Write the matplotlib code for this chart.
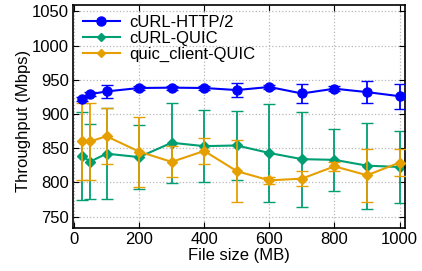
import matplotlib
matplotlib.use("Agg")
import matplotlib.pyplot as plt
from matplotlib.lines import Line2D

plt.rcParams['font.family'] = ['Liberation Sans', 'DejaVu Sans']

# file sizes (MB)
sizes = [25, 50, 100, 200, 300, 400, 500, 600, 700, 800, 900, 1000]

# throughput (Mbps) and error bars
http2 = [922, 929, 933, 938, 938.5, 938, 935, 939.5, 930, 937, 932, 926]
http2_err = [3, 3, 9.5, 3, 3, 3, 10, 3, 14.5, 4, 16, 18]

curl_quic = [838.5, 830.5, 842, 837, 858, 853, 854, 843, 834, 833, 824.5, 822.5]
curl_quic_err = [64.5, 55, 66.5, 46.5, 58.5, 53, 50.5, 71.5, 69.5, 45.5, 63, 52.5]

client_quic = [860, 860, 867.5, 845, 830, 846, 816.5, 803, 805.5, 823.5, 810.5, 829]
client_quic_err = [56, 56, 41, 51, 22.5, 18.5, 45.5, 5, 10.5, 6.5, 38.5, 19.5]

labels = ['cURL-HTTP/2', 'cURL-QUIC', 'quic_client-QUIC']
colors = ['#0000ff', '#009e73', '#e69f00']

fig = plt.figure(figsize=(4.22, 2.71), dpi=100)
ax = fig.add_axes([0.173, 0.159, 0.787, 0.823])

ax.errorbar(sizes, curl_quic, yerr=curl_quic_err, color=colors[1], marker='D',
            markersize=5.5, linewidth=1.5, capsize=4, elinewidth=1.3, zorder=2)
ax.errorbar(sizes, client_quic, yerr=client_quic_err, color=colors[2], marker='D',
            markersize=5.5, linewidth=1.5, capsize=4, elinewidth=1.3, zorder=3)
ax.errorbar(sizes, http2, yerr=http2_err, color=colors[0], marker='o',
            markersize=6.5, linewidth=1.5, capsize=4, elinewidth=1.3, zorder=4)

ax.set_xlim(-3, 1017)
ax.set_ylim(733.5, 1059.5)
ax.set_xticks([0, 200, 400, 600, 800, 1000])
ax.set_yticks([750, 800, 850, 900, 950, 1000, 1050])
ax.grid(True, color='#b8b8b8', linestyle=':', linewidth=0.9)
ax.tick_params(direction='in', top=True, right=True, labelsize=12, length=4, pad=3)
for s in ax.spines.values():
    s.set_linewidth(1.2)

ax.set_xlabel('File size (MB)', fontsize=12, labelpad=1)
ax.set_ylabel('Throughput (Mbps)', fontsize=12)
ax.yaxis.set_label_coords(-0.125, 0.48)

handles = [
    Line2D([], [], color=colors[0], marker='o', markersize=6.5, linewidth=1.5),
    Line2D([], [], color=colors[1], marker='D', markersize=4, linewidth=1.5),
    Line2D([], [], color=colors[2], marker='D', markersize=4, linewidth=1.5),
]
ax.legend(handles, labels, loc='upper left', frameon=False, fontsize=12,
          handlelength=2.2, labelspacing=0.05, borderaxespad=0.2, handletextpad=0.6)

fig.savefig('out.png', dpi=100)
